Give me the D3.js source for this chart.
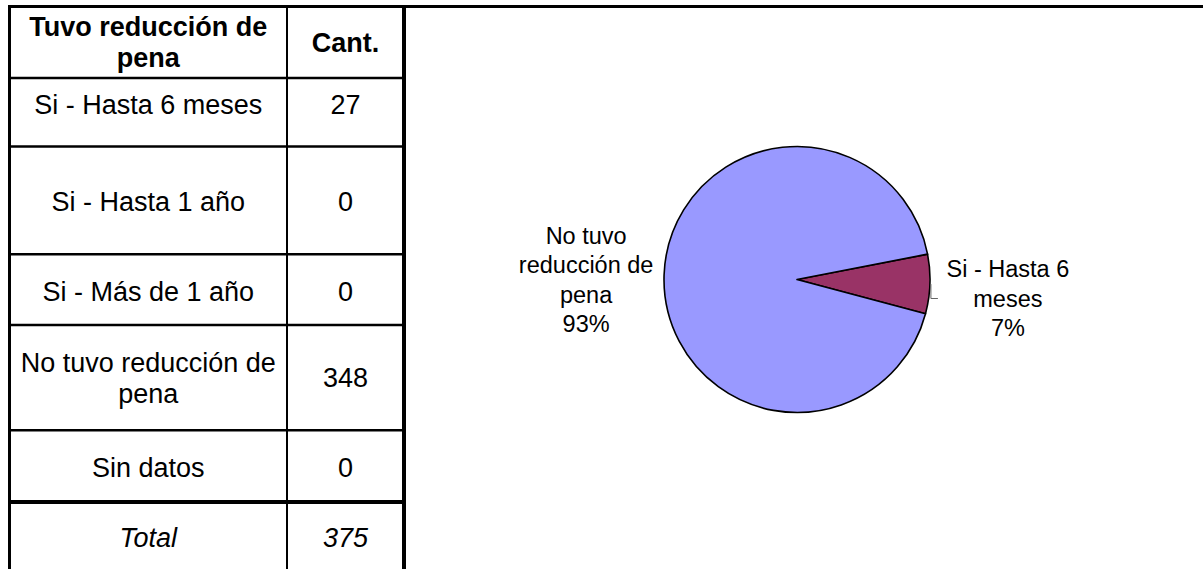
<!DOCTYPE html>
<html>
<head>
<meta charset="utf-8">
<script src="https://cdn.jsdelivr.net/npm/d3@7"></script>
<style>
  body { margin: 0; background: #fff; }
  text { font-family: "Liberation Sans", Arial, sans-serif; fill: #000; }
</style>
</head>
<body>
<script>
(function () {

// data
var headerLabels = ["Tuvo reducción de pena", "Cant."];
var categories = ["Si - Hasta 6 meses", "Si - Hasta 1 año", "Si - Más de 1 año", "No tuvo reducción de pena", "Sin datos"];
var counts = [27, 0, 0, 348, 0];
var totalLabel = "Total";
var sliceColors = ["#993366", "#FFFFCC", "#CCFFFF", "#9999FF", "#660066"];

var width = 1203;
var height = 569;

var svg = d3.select("body")
  .append("svg")
    .attr("width", width)
    .attr("height", height);

// ---- table ----
var colEdges = [9.5, 287, 404];
var rowEdges = [6.5, 78, 146.5, 254.3, 325, 430.3, 502, 572];
var textShift = [0, -8, 1, 2, 0, 1, 0];
var fs = 27;
var lineH = 31;

var rows = [{cells: headerLabels, weight: "bold", style: "normal"}];
categories.forEach(function (c, i) {
  rows.push({cells: [c, String(counts[i])], weight: "normal", style: "normal"});
});
rows.push({cells: [totalLabel, String(d3.sum(counts))], weight: "normal", style: "italic"});

var table = svg.append("g").attr("class", "table");

function wrapLines(str, maxW, font) {
  var probe = svg.append("text").style("font", font);
  var words = str.split(" "), lines = [], cur = "";
  words.forEach(function (w) {
    var test = cur ? cur + " " + w : w;
    probe.text(test);
    if (cur && probe.node().getComputedTextLength() > maxW) {
      lines.push(cur);
      cur = w;
    } else {
      cur = test;
    }
  });
  if (cur) lines.push(cur);
  probe.remove();
  return lines;
}

rows.forEach(function (r, ri) {
  var yc = (rowEdges[ri] + rowEdges[ri + 1]) / 2 + textShift[ri];
  r.cells.forEach(function (c, ci) {
    var x0 = colEdges[ci], x1 = colEdges[ci + 1];
    var font = r.style + " " + r.weight + " " + fs + "px 'Liberation Sans', Arial";
    var lines = wrapLines(c, x1 - x0 - 10, font);
    var t = table.append("text")
      .attr("text-anchor", "middle")
      .style("font-size", fs + "px")
      .style("font-weight", r.weight)
      .style("font-style", r.style);
    lines.forEach(function (l, li) {
      t.append("tspan")
        .attr("x", (x0 + x1) / 2)
        .attr("y", yc + (li - (lines.length - 1) / 2) * lineH)
        .attr("dy", "0.36em")
        .text(l);
    });
  });
});

// grid lines
rowEdges.slice(1, rowEdges.length - 1).forEach(function (y, i) {
  table.append("line")
    .attr("x1", colEdges[0]).attr("x2", colEdges[2])
    .attr("y1", y).attr("y2", y)
    .attr("stroke", "#000")
    .attr("stroke-width", i === rowEdges.length - 3 ? 4 : 2.5);
});
table.append("line")
  .attr("x1", colEdges[1]).attr("x2", colEdges[1])
  .attr("y1", rowEdges[0]).attr("y2", height)
  .attr("stroke", "#000").attr("stroke-width", 2);
table.append("line")
  .attr("x1", colEdges[0]).attr("x2", colEdges[0])
  .attr("y1", 5).attr("y2", height)
  .attr("stroke", "#000").attr("stroke-width", 3);
table.append("line")
  .attr("x1", colEdges[2]).attr("x2", colEdges[2])
  .attr("y1", 5).attr("y2", height)
  .attr("stroke", "#000").attr("stroke-width", 4);
table.append("line")
  .attr("x1", 8).attr("x2", width)
  .attr("y1", rowEdges[0]).attr("y2", rowEdges[0])
  .attr("stroke", "#000").attr("stroke-width", 3);

// ---- pie ----
var cx = 797, cy = 279.5, radius = 133;
var startAngle = 79 * Math.PI / 180;
var labelR = 211;
var labelShift = [19, 0, 0, 0, 0];
var pieFs = 23.5, pieLineH = 29.5;

var pie = d3.pie()
  .sort(null)
  .value(function (d) { return d; })
  .startAngle(startAngle)
  .endAngle(startAngle + 2 * Math.PI);

var arc = d3.arc().innerRadius(0).outerRadius(radius);

var arcs = pie(counts).filter(function (d) { return d.value > 0; });
var total = d3.sum(counts);
var pct = d3.format(".0%");

var g = svg.append("g").attr("transform", "translate(" + cx + "," + cy + ")");

g.selectAll(".slice")
  .data(arcs)
  .enter()
  .append("path")
    .attr("class", "slice")
    .attr("d", arc)
    .attr("fill", function (d) { return sliceColors[d.index]; })
    .attr("stroke", "#000")
    .attr("stroke-width", 1.6)
    .attr("stroke-linejoin", "round");

arcs.forEach(function (d) {
  var m = (d.startAngle + d.endAngle) / 2;
  var lx = labelR * Math.sin(m);
  var ly = labelShift[d.index];
  var font = "normal normal " + pieFs + "px 'Liberation Sans', Arial";
  var lines = wrapLines(categories[d.index], 145, font);
  lines.push(pct(d.value / total));
  var t = g.append("text")
    .attr("text-anchor", "middle")
    .style("font-size", pieFs + "px");
  lines.forEach(function (l, li) {
    t.append("tspan")
      .attr("x", lx)
      .attr("y", ly + (li - (lines.length - 1) / 2) * pieLineH)
      .attr("dy", "0.36em")
      .text(l);
  });
  if (ly !== 0) {
    var px = (radius + 1) * Math.sin(m), py = -(radius + 1) * Math.cos(m);
    g.append("path")
      .attr("d", "M" + px + "," + py + "V" + ly + "h7")
      .attr("fill", "none")
      .attr("stroke", "#666")
      .attr("stroke-width", 1);
  }
});

}());
</script>
</body>
</html>
